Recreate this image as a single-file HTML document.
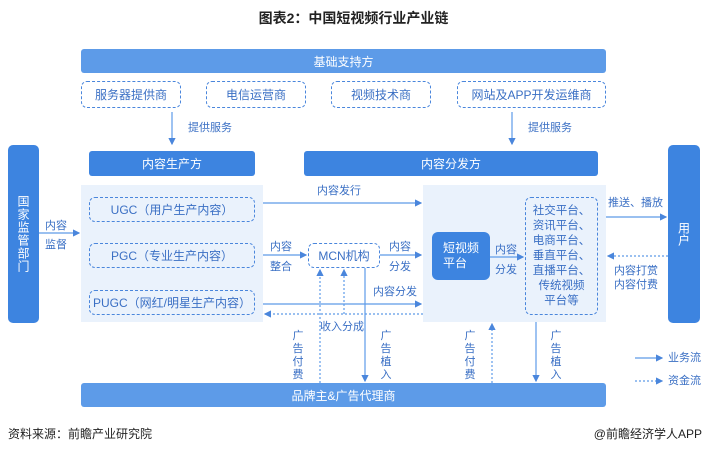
<!DOCTYPE html>
<html><head><meta charset="utf-8"><style>
body{margin:0;width:707px;height:452px;background:#fff;position:relative;overflow:hidden;font-family:"Liberation Sans","Noto Sans CJK SC",sans-serif;}
.a{position:absolute;box-sizing:border-box;}
.bar{background:#5d9be8;color:#fff;border-radius:3px;display:flex;align-items:center;justify-content:center;font-size:12px;}
.dk{background:#3d84e0;}
.db{border:1.5px dashed #4a86dc;border-radius:6px;color:#3a6fc4;display:flex;align-items:center;justify-content:center;font-size:12px;background:transparent;}
.t{color:#3a6fc4;font-size:11px;line-height:14px;white-space:nowrap;}
.v{width:12px;text-align:center;line-height:13px;}
.pan{background:#eaf2fc;}
</style></head><body>
<div class="a" style="left:0;top:8px;width:707px;text-align:center;font-size:14px;font-weight:bold;color:#222;">图表2：中国短视频行业产业链</div>
<div class="a bar" style="left:81px;top:49px;width:525px;height:24px;">基础支持方</div>
<div class="a db" style="left:81px;top:81px;width:100px;height:27px;">服务器提供商</div>
<div class="a db" style="left:206px;top:81px;width:100px;height:27px;">电信运营商</div>
<div class="a db" style="left:331px;top:81px;width:100px;height:27px;">视频技术商</div>
<div class="a db" style="left:457px;top:81px;width:149px;height:27px;">网站及APP开发运维商</div>
<div class="a t" style="left:188px;top:121px;">提供服务</div>
<div class="a t" style="left:528px;top:121px;">提供服务</div>
<div class="a bar dk" style="left:89px;top:151px;width:166px;height:25px;">内容生产方</div>
<div class="a bar dk" style="left:304px;top:151px;width:294px;height:25px;">内容分发方</div>
<div class="a pan" style="left:81px;top:185px;width:182px;height:137px;"></div>
<div class="a pan" style="left:423px;top:185px;width:183px;height:137px;"></div>
<div class="a bar dk" style="left:8px;top:145px;width:31px;height:178px;border-radius:5px;writing-mode:vertical-rl;letter-spacing:1px;">国家监管部门</div>
<div class="a bar dk" style="left:668px;top:145px;width:32px;height:178px;border-radius:5px;writing-mode:vertical-rl;">用户</div>
<div class="a db" style="left:89px;top:197px;width:166px;height:25px;">UGC（用户生产内容）</div>
<div class="a db" style="left:89px;top:243px;width:166px;height:25px;">PGC（专业生产内容）</div>
<div class="a db" style="left:89px;top:290px;width:166px;height:25px;">PUGC（网红/明星生产内容）</div>
<div class="a db" style="left:308px;top:243px;width:72px;height:25px;">MCN机构</div>
<div class="a bar dk" style="left:432px;top:232px;width:58px;height:48px;border-radius:6px;flex-direction:column;line-height:15px;">短视频<br>平台</div>
<div class="a db" style="left:525px;top:197px;width:73px;height:118px;font-size:11.5px;line-height:15px;text-align:center;">社交平台、<br>资讯平台、<br>电商平台、<br>垂直平台、<br>直播平台、<br>传统视频<br>平台等</div>
<div class="a bar" style="left:81px;top:383px;width:525px;height:24px;">品牌主&amp;广告代理商</div>
<div class="a t" style="left:45px;top:217px;line-height:19px;">内容<br>监督</div>
<div class="a t" style="left:317px;top:184px;">内容发行</div>
<div class="a t" style="left:270px;top:237px;line-height:20px;">内容<br>整合</div>
<div class="a t" style="left:389px;top:237px;line-height:20px;">内容<br>分发</div>
<div class="a t" style="left:495px;top:240px;line-height:20px;">内容<br>分发</div>
<div class="a t" style="left:373px;top:285px;">内容分发</div>
<div class="a t" style="left:608px;top:196px;">推送、播放</div>
<div class="a t" style="left:614px;top:264px;line-height:14px;">内容打赏<br>内容付费</div>
<div class="a t" style="left:320px;top:320px;">收入分成</div>
<div class="a t v" style="left:292px;top:330px;">广<br>告<br>付<br>费</div>
<div class="a t v" style="left:380px;top:330px;">广<br>告<br>植<br>入</div>
<div class="a t v" style="left:464px;top:330px;">广<br>告<br>付<br>费</div>
<div class="a t v" style="left:550px;top:330px;">广<br>告<br>植<br>入</div>
<div class="a t" style="left:668px;top:351px;">业务流</div>
<div class="a t" style="left:668px;top:374px;">资金流</div>
<div class="a" style="left:8px;top:425px;font-size:12px;color:#222;">资料来源：前瞻产业研究院</div>
<div class="a" style="right:5px;top:425px;font-size:12px;color:#222;">@前瞻经济学人APP</div>
<svg class="a" style="left:0;top:0" width="707" height="452">
<defs><marker id="m" markerWidth="6" markerHeight="6" refX="5" refY="3" orient="auto"><path d="M0,0L6,3L0,6z" fill="#4a86dc"/></marker></defs>
<g stroke="#5d9be8" stroke-width="1.2" fill="none" marker-end="url(#m)">
<line x1="172" y1="112" x2="172" y2="144"/>
<line x1="512" y1="112" x2="512" y2="144"/>
<line x1="39" y1="233" x2="79" y2="233"/>
<line x1="263" y1="203" x2="421" y2="203"/>
<line x1="263" y1="255" x2="306" y2="255"/>
<line x1="380" y1="255" x2="421" y2="255"/>
<line x1="490" y1="257" x2="523" y2="257"/>
<line x1="263" y1="304" x2="421" y2="304"/>
<line x1="606" y1="217" x2="666" y2="217"/>
<line x1="365" y1="268" x2="365" y2="381"/>
<line x1="536" y1="322" x2="536" y2="381"/>
<line x1="635" y1="358" x2="662" y2="358"/>
</g>
<g stroke="#5d9be8" stroke-width="1.2" fill="none" stroke-dasharray="2,2" marker-end="url(#m)">
<line x1="423" y1="314" x2="265" y2="314"/>
<line x1="668" y1="256" x2="608" y2="256"/>
<line x1="320" y1="383" x2="320" y2="270"/>
<line x1="344" y1="314" x2="344" y2="270"/>
<line x1="492" y1="383" x2="492" y2="324"/>
<line x1="635" y1="381" x2="662" y2="381"/>
</g>
</svg>
</body></html>
